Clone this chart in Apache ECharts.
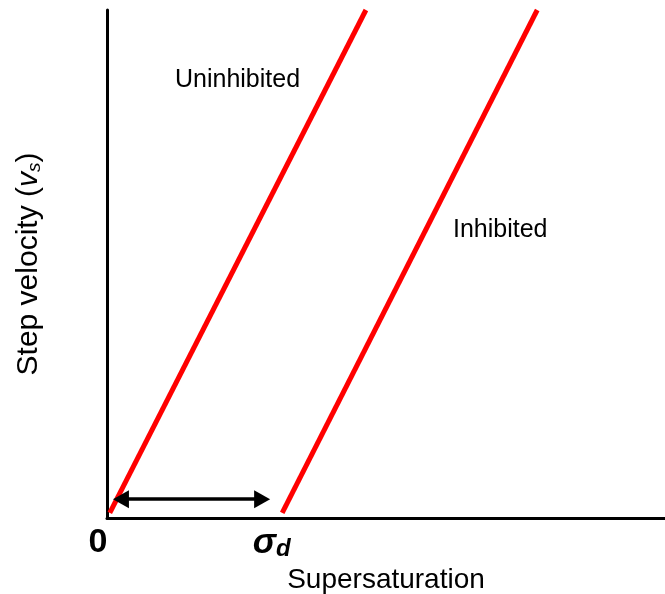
<!DOCTYPE html>
<html><head><meta charset="utf-8">
<script src="https://cdn.jsdelivr.net/npm/echarts@6/dist/echarts.min.js"></script>
<style>html,body{margin:0;padding:0;background:#fff}#chart{width:665px;height:594px}</style>
</head><body><div id="chart"></div>
<script>
// Supersaturation values (arbitrary units) where the axis is labelled
const sigmaD = 2.95;
const tickValues = [0, sigmaD];
// Step velocity vs supersaturation: [supersaturation, step velocity]
const uninhibited = [[0.05, 0.1], [4.64, 10]];
const inhibited = [[3.14, 0.1], [7.71, 10]];
// Dead zone width, drawn as a double-headed arrow (centres of the two heads)
const deadZone = [[0.25, 0.37], [2.78, 0.37]];
const seriesNames = ['Uninhibited', 'Inhibited'];

const FONT = '"Liberation Sans", Arial, sans-serif';
const chart = echarts.init(document.getElementById('chart'), null, {renderer: 'canvas'});

chart.setOption({
  animation: false,
  backgroundColor: '#ffffff',
  grid: {left: 107, right: 0, top: 10, bottom: 76, containLabel: false, outerBoundsMode: 'none'},
  xAxis: {
    type: 'value', min: 0, max: 10,
    axisLine: {show: true, onZero: false, lineStyle: {color: '#000', width: 3}},
    axisTick: {show: false},
    splitLine: {show: false},
    axisLabel: {
      customValues: tickValues,
      margin: 8,
      formatter: v => v === 0 ? '{z|0}' : '{s|σ}{d|d}',
      rich: {
        z: {fontFamily: FONT, fontWeight: 'bold', fontSize: 34, color: '#000', padding: [0, 18, 0, 0]},
        s: {fontFamily: FONT, fontWeight: 'bold', fontStyle: 'italic', fontSize: 35, color: '#000', padding: [0, 0, 4, 0]},
        d: {fontFamily: FONT, fontWeight: 'bold', fontStyle: 'italic', fontSize: 24, color: '#000', padding: [8, 0, 0, 0]}
      }
    },
    name: 'Supersaturation',
    nameLocation: 'middle',
    nameGap: 38,
    nameTextStyle: {fontFamily: FONT, fontSize: 28, color: '#000'}
  },
  yAxis: {
    type: 'value', min: 0, max: 10,
    axisLine: {show: true, onZero: false, lineStyle: {color: '#000', width: 3}},
    axisTick: {show: false},
    splitLine: {show: false},
    axisLabel: {show: false},
    name: '{n|Step velocity (}{v|v}{s|s}{n|)}',
    nameLocation: 'middle',
    nameGap: 63,
    nameTextStyle: {
      rich: {
        n: {fontFamily: FONT, fontSize: 30, color: '#000'},
        v: {fontFamily: FONT, fontSize: 30, fontStyle: 'italic', color: '#000'},
        s: {fontFamily: FONT, fontSize: 19, fontStyle: 'italic', color: '#000', padding: [11, 0, 0, 0]}
      }
    }
  },
  series: [
    {
      name: seriesNames[0], type: 'line', data: uninhibited,
      symbol: 'none', lineStyle: {color: '#ff0000', width: 5}
    },
    {
      name: seriesNames[1], type: 'line', data: inhibited,
      symbol: 'none', lineStyle: {color: '#ff0000', width: 5}
    },
    {
      name: 'dead zone', type: 'line', data: [],
      markLine: {
        silent: true,
        symbol: ['triangle', 'triangle'],
        symbolSize: [18, 16],
        label: {show: false},
        lineStyle: {color: '#000', width: 3.5, type: 'solid'},
        data: [[{coord: deadZone[0]}, {coord: deadZone[1]}]]
      }
    }
  ],
  graphic: [
    {type: 'text', left: 175, top: 68, style: {text: seriesNames[0], font: '25px ' + FONT, fill: '#000'}},
    {type: 'text', left: 453, top: 218, style: {text: seriesNames[1], font: '25px ' + FONT, fill: '#000'}}
  ]
});
</script></body></html>
